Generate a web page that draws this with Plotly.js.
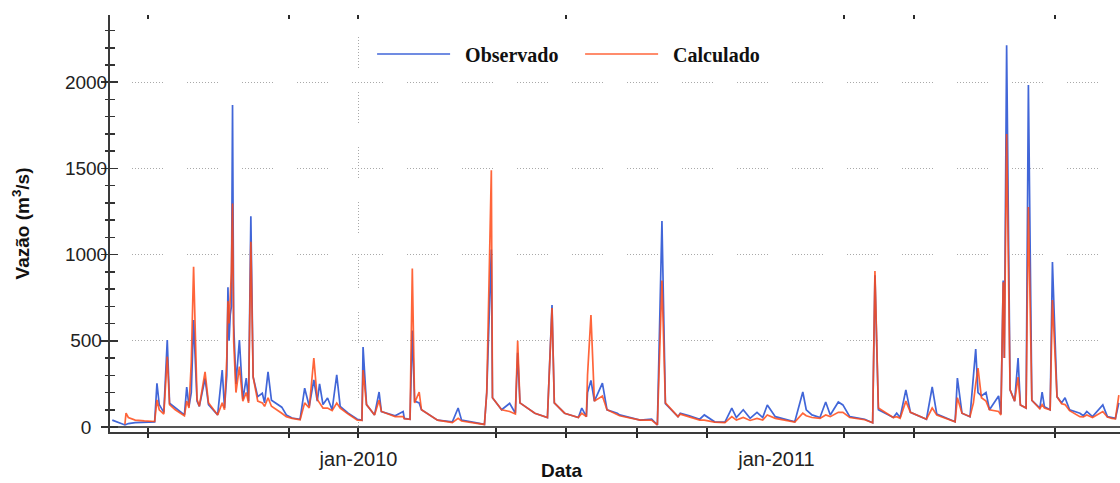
<!DOCTYPE html>
<html>
<head>
<meta charset="utf-8">
<script src="https://cdn.plot.ly/plotly-3.0.1.min.js"></script>
<style>html,body{margin:0;padding:0;background:#fff;}#chart{width:1120px;height:483px;}</style>
</head>
<body>
<div id="chart"></div>
<script>
// ---- data ----
const dates = [
'2009-05-31','2009-06-05','2009-06-10','2009-06-11','2009-06-12','2009-06-14','2009-06-20','2009-06-28',
'2009-07-07','2009-07-09','2009-07-11','2009-07-15','2009-07-18','2009-07-20','2009-07-25',
'2009-08-02','2009-08-04','2009-08-06','2009-08-08','2009-08-10','2009-08-13','2009-08-15','2009-08-20','2009-08-23','2009-08-31',
'2009-09-04','2009-09-06','2009-09-08','2009-09-09','2009-09-10','2009-09-11','2009-09-12','2009-09-13','2009-09-14','2009-09-16','2009-09-19','2009-09-22','2009-09-25','2009-09-27','2009-09-29',
'2009-10-01','2009-10-05','2009-10-09','2009-10-11','2009-10-14','2009-10-17','2009-10-26','2009-10-30',
'2009-11-04','2009-11-11','2009-11-15','2009-11-19','2009-11-23','2009-11-26','2009-11-28',
'2009-12-01','2009-12-05','2009-12-09','2009-12-13','2009-12-16','2009-12-23','2009-12-31',
'2010-01-04','2010-01-05','2010-01-08','2010-01-15','2010-01-19','2010-01-21',
'2010-02-02','2010-02-09','2010-02-10','2010-02-15','2010-02-17','2010-02-19','2010-02-23','2010-02-25',
'2010-03-11','2010-03-24','2010-03-29',
'2010-04-01','2010-04-13','2010-04-21','2010-04-23','2010-04-27','2010-04-28',
'2010-05-06','2010-05-13','2010-05-18','2010-05-20','2010-05-22',
'2010-06-04','2010-06-15','2010-06-19','2010-06-21','2010-06-30',
'2010-07-12','2010-07-15','2010-07-19','2010-07-20','2010-07-23','2010-07-26',
'2010-08-02','2010-08-06','2010-08-15','2010-08-17',
'2010-09-04','2010-09-14','2010-09-19','2010-09-23','2010-09-26',
'2010-10-07','2010-10-09','2010-10-17','2010-10-26','2010-10-30',
'2010-11-08','2010-11-17','2010-11-23','2010-11-27',
'2010-12-03','2010-12-09','2010-12-15','2010-12-20','2010-12-24','2010-12-31',
'2011-01-08','2011-01-17','2011-01-24','2011-01-27',
'2011-02-01','2011-02-08','2011-02-13','2011-02-17','2011-02-24','2011-02-28',
'2011-03-06','2011-03-19','2011-03-26','2011-03-28','2011-03-31',
'2011-04-13','2011-04-16','2011-04-19','2011-04-24','2011-04-28',
'2011-05-12','2011-05-17','2011-05-21',
'2011-06-06','2011-06-08','2011-06-12','2011-06-19','2011-06-22','2011-06-24','2011-06-26','2011-06-29',
'2011-07-03','2011-07-06','2011-07-14','2011-07-16','2011-07-18','2011-07-19','2011-07-21','2011-07-24','2011-07-28','2011-07-31',
'2011-08-02','2011-08-07','2011-08-09','2011-08-12','2011-08-19','2011-08-21','2011-08-23','2011-08-28','2011-08-30',
'2011-09-03','2011-09-07','2011-09-10','2011-09-14','2011-09-23','2011-09-26','2011-09-29',
'2011-10-04','2011-10-13','2011-10-17','2011-10-21','2011-10-24','2011-10-27'
];

const observado = [
40,28,14,12,15,20,25,28,
30,253,130,85,505,138,110,
70,232,120,200,620,150,120,280,130,70,
330,110,300,810,500,650,700,1868,600,250,505,160,284,150,1223,
290,176,196,140,320,155,115,70,
52,45,225,120,273,150,250,
130,168,100,302,120,80,45,
40,464,130,70,203,90,
65,90,50,45,560,150,140,100,
40,30,110,
40,25,15,200,1030,170,
100,137,80,430,140,
80,55,708,140,80,
55,110,60,200,270,150,
255,100,80,70,
40,45,12,1195,135,
60,80,65,45,70,
30,28,110,55,
100,50,85,55,128,60,
45,30,203,100,
70,55,145,70,145,128,
60,45,25,880,100,
55,80,55,215,85,
45,232,75,
30,284,80,60,273,452,200,180,
200,100,180,75,850,400,2215,215,150,400,
128,110,1984,155,110,203,118,100,957,
175,140,170,100,80,65,90,
60,128,60,52,50,140
];

const calculado = [
null,null,null,15,80,55,40,35,
32,157,100,75,408,130,100,
65,150,110,377,930,160,120,320,140,70,
140,100,400,730,600,720,900,1297,500,200,350,150,200,140,1075,
290,150,140,120,170,120,80,60,
50,42,140,110,400,160,140,
110,110,95,139,110,75,40,
38,330,130,70,155,90,
60,60,48,45,920,140,203,100,
40,25,50,
35,22,15,200,1490,170,
100,90,75,500,140,
80,55,690,140,80,
55,80,60,300,650,150,
180,100,75,65,
40,40,12,850,140,
60,75,60,40,40,
28,25,60,40,
55,38,50,40,70,50,
38,28,80,65,
55,50,70,60,85,85,
55,42,25,905,110,
55,60,50,150,85,
45,110,70,
30,170,80,60,140,250,342,170,
150,100,90,70,840,400,1700,215,150,290,
128,110,1276,155,105,130,110,100,737,
175,135,130,95,60,58,70,
55,90,58,50,48,185
];

const seriesNames = ['\u00A0\u00A0<b>Observado</b>', '\u00A0\u00A0<b>Calculado</b>'];
const xLabelDates = ['2010-01-01', '2011-01-01'];
const xLabelText = ['jan-2010', 'jan-2011'];
const bottomTickDates = ['2009-07-01','2009-11-01','2010-01-01','2010-05-01','2010-07-01','2010-09-01','2010-11-01','2011-03-01','2011-05-01','2011-09-01'];
const topTickDates = ['2009-07-01','2009-11-01','2010-01-01','2010-07-01','2011-03-01','2011-05-01','2011-09-01'];
const vGridDates = ['2010-01-01'];
const yTitle = '<b>Vazão (m<sup>3</sup>/s)</b>';
const xTitle = '<b>Data</b>';

// ---- styling ----
const xRange = ['2009-05-29', '2011-10-28'];
const yRange = [-29, 2390];
const BLUE = '#4166d8';
const ORANGE = '#ff4a18';
const GRIDC = '#a9a9a9';
const gridDash = '0px,22px,' + Array(11).fill('1px,2px').join(',');

const traces = [
  {x: dates, y: observado, type: 'scatter', mode: 'lines', name: seriesNames[0],
   line: {color: BLUE, width: 1.7}, hoverinfo: 'x+y'},
  {x: dates, y: calculado, type: 'scatter', mode: 'lines', name: seriesNames[1],
   line: {color: ORANGE, width: 1.7}, opacity: 0.85, hoverinfo: 'x+y'}
];
['x2','x3','x4','x5'].forEach(a => traces.push({x: [], y: [], xaxis: a, yaxis: 'y', type: 'scatter', showlegend: false, hoverinfo: 'skip'}));
traces.push({x: [], y: [], xaxis: 'x', yaxis: 'y2', type: 'scatter', showlegend: false, hoverinfo: 'skip'});

const overlayX = (extra) => Object.assign({
  type: 'date', overlaying: 'x', anchor: 'y', range: xRange, tickmode: 'array',
  showticklabels: false, showgrid: false, showline: false, zeroline: false,
  tickcolor: '#2a2a2a', tickwidth: 2
}, extra);

const layout = {
  width: 1120, height: 483,
  margin: {l: 110, r: 0, t: 15, b: 51},
  paper_bgcolor: '#ffffff', plot_bgcolor: '#ffffff',
  font: {family: 'Liberation Sans, Arial, sans-serif', size: 19, color: '#222'},
  showlegend: true,
  legend: {
    orientation: 'h', x: 0.2595, y: 0.9065, xanchor: 'left', yanchor: 'middle',
    bgcolor: 'rgba(0,0,0,0)', borderwidth: 0,
    font: {family: 'Liberation Serif, Times New Roman, serif', size: 20, color: '#111'},
    itemwidth: 73, entrywidth: 120, entrywidthmode: 'pixels'
  },
  xaxis: {
    type: 'date', range: xRange, tickmode: 'array', tickvals: xLabelDates, ticktext: xLabelText,
    ticks: '', showgrid: false, zeroline: false, showline: true, linecolor: '#3a3a3a', linewidth: 2,
    ticklabelstandoff: 8, tickfont: {size: 20, color: '#222'}
  },
  xaxis2: overlayX({side: 'top', tickvals: topTickDates, ticks: 'inside', ticklen: 4}),
  xaxis3: overlayX({side: 'bottom', tickvals: bottomTickDates, ticks: 'outside', ticklen: 5}),
  xaxis4: overlayX({side: 'bottom', tickvals: bottomTickDates, ticks: 'inside', ticklen: 4}),
  xaxis5: overlayX({side: 'bottom', tickvals: vGridDates, ticks: '', showgrid: true, gridcolor: GRIDC, griddash: gridDash, gridwidth: 1}),
  yaxis: {
    range: yRange, tickmode: 'linear', tick0: 0, dtick: 500,
    labelalias: {'0': '0\u00A0\u00A0\u00A0', '500': '500\u00A0'},
    ticks: 'outside', ticklen: 7, tickwidth: 1.5, tickcolor: '#333',
    minor: {tickmode: 'linear', tick0: 0, dtick: 100, ticks: 'outside', ticklen: 3, tickwidth: 1.5, tickcolor: '#333', showgrid: false},
    showgrid: true, gridcolor: GRIDC, griddash: gridDash, gridwidth: 1,
    zeroline: true, zerolinecolor: '#555', zerolinewidth: 1.5,
    showline: true, linecolor: '#3a3a3a', linewidth: 2,
    ticklabelstandoff: -10, tickfont: {size: 19, color: '#222'},
    title: {text: yTitle, font: {size: 19, color: '#111'}, standoff: 30}
  },
  yaxis2: {
    overlaying: 'y', side: 'left', anchor: 'x', range: yRange, tickmode: 'linear', tick0: 0, dtick: 500,
    ticks: 'inside', ticklen: 8, tickwidth: 1.5, tickcolor: '#333',
    minor: {tickmode: 'linear', tick0: 0, dtick: 100, ticks: 'inside', ticklen: 5, tickwidth: 1.5, tickcolor: '#333', showgrid: false},
    showticklabels: false, showgrid: false, zeroline: false, showline: false
  },
  annotations: [{
    text: xTitle, xref: 'paper', yref: 'paper', x: 0.4475, y: -0.1223,
    xanchor: 'center', yanchor: 'bottom', showarrow: false,
    font: {size: 19, color: '#111', family: 'Liberation Sans, Arial, sans-serif'}
  }]
};

Plotly.newPlot('chart', traces, layout, {staticPlot: true, displayModeBar: false});
</script>
</body>
</html>
